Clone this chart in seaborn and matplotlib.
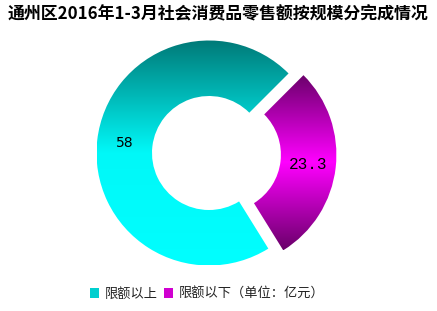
import numpy as np
import matplotlib
matplotlib.use("Agg")
import matplotlib.pyplot as plt
import seaborn as sns
from matplotlib.colors import LinearSegmentedColormap
from matplotlib.patches import Patch

# Retail sales by enterprise scale, Jan-Mar 2016 (100 million yuan)
categories = ["限额以上", "限额以下"]
values = [58, 23.3]
title = "通州区2016年1-3月社会消费品零售额按规模分完成情况"
unit_note = "（单位：亿元）"

sns.set_theme(style="white")
plt.rcParams["font.family"] = ["Noto Sans CJK SC", "DejaVu Sans"]

W, H = 437, 311
fig = plt.figure(figsize=(W / 100, H / 100), dpi=100)
fig.patch.set_facecolor("white")
ax = fig.add_axes([0, 0, 1, 1])

total = sum(values)
wedges, texts, autotexts = ax.pie(
    values,
    startangle=45,
    counterclock=True,
    radius=112.5,
    center=(209, 158),
    explode=[0, 15],
    wedgeprops=dict(width=55.5, linewidth=0),
    autopct=lambda p: f"{round(p * total / 100, 1):g}",
    pctdistance=0.755,
    textprops=dict(color="black", fontsize=10, family=["DejaVu Sans"]),
)

# vertical gradient fills clipped to each ring segment
gradients = [
    LinearSegmentedColormap.from_list("teal", ["#00FFFF", "#00F8F8", "#007A78"]),
    LinearSegmentedColormap.from_list("violet", ["#6A006A", "#FF00FF", "#6A006A"]),
]
ramp = np.linspace(0, 1, 256).reshape(-1, 1)
for wedge, cmap in zip(wedges, gradients):
    wedge.set_facecolor("none")
    wedge.set_edgecolor("none")
    bb = wedge.get_path().get_extents(wedge.get_patch_transform())
    im = ax.imshow(ramp, cmap=cmap, origin="lower", aspect="auto",
                   extent=(bb.x0, bb.x1, bb.y0, bb.y1), interpolation="bilinear",
                   zorder=1)
    im.set_clip_path(wedge)

for t in autotexts:
    t.set_zorder(3)
autotexts[1].set_family(["Liberation Mono"])
autotexts[1].set_fontsize(11.5)

ax.set_xlim(0, W)
ax.set_ylim(0, H)
ax.set_aspect("equal")
ax.axis("off")

fig.text(217.5 / W, 1 - 14 / H, title, ha="center", va="center",
         fontsize=12.2, fontweight="bold", color="black",
         family=["Noto Sans CJK SC", "DejaVu Sans"])

handles = [Patch(facecolor="#00CFCF", edgecolor="none"),
           Patch(facecolor="#D000D0", edgecolor="none")]
fig.legend(handles, [categories[0], categories[1] + unit_note],
           loc="center", bbox_to_anchor=(207 / W, 1 - 294 / H), ncol=2,
           frameon=False, handlelength=0.7, handleheight=0.7,
           handletextpad=0.4, columnspacing=0.5, fontsize=9.5,
           labelcolor="#222222")

fig.savefig("out.png", dpi=100, facecolor="white")
